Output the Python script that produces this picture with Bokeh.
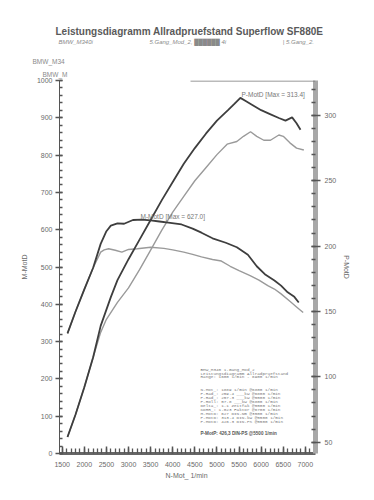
from bokeh.plotting import figure
from bokeh.models import Range1d, LinearAxis, SingleIntervalTicker, Label, BoxAnnotation, Title
from bokeh.embed import file_html
from bokeh.resources import INLINE

# ---- data ----
rpm_m_run1 = [1620, 1800, 2000, 2200, 2370, 2500, 2600, 2750, 2900, 3100, 3300, 3500, 3700, 3900,
              4200, 4450, 4650, 4900, 5200, 5450, 5700, 5900, 6100, 6300, 6450, 6600, 6750, 6850]
m_run1 = [322, 380, 440, 498, 562, 596, 611, 617, 616, 626, 627, 625, 622, 619,
          614, 603, 592, 577, 565, 553, 533, 502, 479, 464, 450, 432, 420, 405]

rpm_m_run2 = [1620, 1800, 2000, 2200, 2370, 2450, 2550, 2700, 2850, 3000, 3200, 3500, 3800, 4000,
              4250, 4450, 4650, 4900, 5100, 5300, 5500, 5750, 5950, 6150, 6300, 6450, 6650, 6800, 6950]
m_run2 = [322, 380, 440, 498, 540, 546, 549, 545, 540, 547, 549, 553, 550, 546,
          540, 534, 527, 520, 516, 502, 490, 477, 465, 450, 441, 428, 408, 393, 378]

rpm_p_run1 = [1620, 1800, 2000, 2200, 2370, 2600, 2750, 3000, 3250, 3500, 3750, 4000, 4250, 4500,
              4750, 5000, 5250, 5400, 5530, 5650, 5800, 6000, 6200, 6400, 6550, 6700, 6800, 6890]
p_run1 = [54, 71, 92, 115, 139, 161, 174, 190, 205, 220, 235, 249, 263, 275,
          286, 296, 304, 309, 313.4, 311, 308, 304, 301, 298, 296, 298.5, 294, 289]

rpm_p_run2 = [1620, 1800, 2000, 2200, 2370, 2500, 2750, 3000, 3250, 3500, 3750, 4000, 4250, 4500,
              4750, 5000, 5230, 5450, 5600, 5760, 5900, 6060, 6210, 6400, 6500, 6650, 6800, 6965]
p_run2 = [54, 71, 92, 115, 134, 144, 157, 168, 182, 197, 212, 226, 238, 250,
          260, 270, 278, 280, 284, 287.5, 284, 281, 281, 285, 284, 279, 275, 273.5]

main_title = "Leistungsdiagramm Allradpruefstand Superflow SF880E"
sub_parts = ["BMW_M340i", "5.Gang_Mod_2, \u2588\u2588\u2588\u2588\u2588\u2588 4i", "| 5.Gang_2."]
head_rows = ["BMW_M34", "BMW_M"]
info_header = ["BMW_M340           1.Gang_Mod_2",
               "Leistungsdiagramm Allradpruefstand",
               "Range: 1600 1/min - 6900 1/min"]
info_rows = ["N-Mot_:    1889 1/min  @6800 1/min",
             "P-Rad_:   259.4 ___kW  @6800 1/min",
             "P-Rad_:   257.3 ___kW  @5500 1/min",
             "P-Roll:    57.8 ___kW  @6800 1/min",
             "Delta_:     1.1 Zeitfak @5500 1/min",
             "KORR_:    1.023 Faktor @6700 1/min",
             "M-MotD:     627 DIN-Nm @3500 1/min",
             "P-MotD:   313.4 DIN-kW @5500 1/min",
             "P-MotD:   426.3 DIN-PS @5500 1/min"]
info_footer = "P-MotP: 426,3 DIN-PS @5500 1/min"

FONT = "Liberation Sans"
GREY = "#6a6a6a"
NB = "\u00a0"

def X(px):
    return 1500 + (px - 61.7) * 22.62

def Y(py):
    return (453 - py) / 0.373

subtitle = (sub_parts[0] + NB * 34 + sub_parts[1] + NB * 34 + sub_parts[2])

p = figure(width=366, height=492, x_range=Range1d(1439, 7229), y_range=Range1d(0, 1000),
           output_backend="svg", toolbar_location=None,
           min_border_left=59, min_border_right=51, min_border_top=80, min_border_bottom=39,
           x_axis_label="N-Mot_  1/min", y_axis_label="M-MotD", title=main_title)
p.extra_y_ranges = {"P": Range1d(41.35, 326.7)}
p.outline_line_color = None
p.grid.visible = False
p.background_fill_color = "white"
p.border_fill_color = "white"

# main title (outermost row)
p.title.text_font = FONT
p.title.text_font_size = "10px"
p.title.text_font_style = "bold"
p.title.text_color = "#5a5a5a"
p.title.align = "left"
p.title.offset = -4
p.title.standoff = 0

def head(text, size, color, style, offset, standoff):
    p.add_layout(Title(text=text, text_font=FONT, text_font_size=size, text_font_style=style,
                       text_color=color, align="left", offset=offset, standoff=standoff), "above")

# header rows, nearest to the frame first
head(head_rows[1], "6.5px", "#8a8a8a", "normal", -17, 4.5)
head(head_rows[0], "6.5px", "#8a8a8a", "normal", -27, 2.5)
head(NB, "1px", "white", "normal", 0, 6.4)
head(subtitle, "6px", "#8a8a8a", "italic", -1, 0)

# left axis
ya = p.yaxis[0]
ya.ticker = SingleIntervalTicker(interval=100, num_minor_ticks=5)
ya.axis_line_color = "#555"
ya.major_tick_in = 3
ya.major_tick_out = 4
ya.minor_tick_in = 3
ya.minor_tick_out = 0
ya.major_tick_line_width = 1.5
ya.major_tick_line_color = "#555"
ya.minor_tick_line_color = "#555"
ya.minor_tick_line_width = 1.3
ya.major_label_standoff = 3
ya.major_label_text_font = FONT
ya.major_label_text_font_size = "7px"
ya.major_label_text_color = GREY
ya.axis_label_text_font = FONT
ya.axis_label_text_font_size = "7px"
ya.axis_label_text_font_style = "normal"
ya.axis_label_text_color = GREY
ya.axis_label_standoff = 6

# bottom axis
xa = p.xaxis[0]
xa.ticker = SingleIntervalTicker(interval=500, num_minor_ticks=5)
xa.axis_line_color = "#666"
xa.axis_line_width = 3
xa.major_tick_in = 7
xa.major_tick_out = 0
xa.minor_tick_in = 5
xa.minor_tick_out = 0
xa.major_tick_line_color = "#555"
xa.major_tick_line_width = 1.5
xa.minor_tick_line_color = "#555"
xa.minor_tick_line_width = 1.3
xa.major_label_standoff = 8
xa.major_label_text_font = FONT
xa.major_label_text_font_size = "7px"
xa.major_label_text_color = GREY
xa.axis_label_text_font = FONT
xa.axis_label_text_font_size = "7px"
xa.axis_label_text_font_style = "normal"
xa.axis_label_text_color = GREY
xa.axis_label_standoff = 2

# right axis (power)
ra = LinearAxis(y_range_name="P", axis_label="P-MotD",
                ticker=SingleIntervalTicker(interval=50, num_minor_ticks=5))
ra.axis_line_color = "#a8a8a8"
ra.axis_line_width = 5
ra.major_tick_in = 4
ra.major_tick_out = 5
ra.minor_tick_in = 4
ra.minor_tick_out = 0
ra.major_tick_line_color = "#555"
ra.major_tick_line_width = 1.5
ra.minor_tick_line_color = "#555"
ra.minor_tick_line_width = 1.3
ra.major_label_standoff = 4
ra.major_label_text_font = FONT
ra.major_label_text_font_size = "7px"
ra.major_label_text_color = GREY
ra.axis_label_text_font = FONT
ra.axis_label_text_font_size = "7px"
ra.axis_label_text_font_style = "normal"
ra.axis_label_text_color = GREY
ra.axis_label_standoff = 4
p.add_layout(ra, "right")

# partial top frame line
p.add_layout(BoxAnnotation(left=X(190), bottom=997.3, top=1000, fill_color="#777",
                           fill_alpha=1, line_color=None))

# curves
p.line(rpm_m_run2, m_run2, line_color="#9a9a9a", line_width=1.4)
p.line(rpm_p_run2, p_run2, line_color="#9a9a9a", line_width=1.4, y_range_name="P")
p.line(rpm_m_run1, m_run1, line_color="#3e3e3e", line_width=1.8)
p.line(rpm_p_run1, p_run1, line_color="#3e3e3e", line_width=1.8, y_range_name="P")

def lab(px, py, text, size="6.5px", color=GREY, style="normal", font=FONT, **kw):
    p.add_layout(Label(x=X(px), y=Y(py), text=text, text_font=font, text_font_size=size,
                       text_color=color, text_font_style=style, text_baseline="middle", **kw))

# curve labels
lab(241, 94, "P-MotD [Max = 313.4]", size="6.5px", color="#777")
lab(140, 216, "M-MotD [Max = 627.0]", size="6.5px", color="#777")

# info box
MONO = "Liberation Mono"
for i, t in enumerate(info_header):
    lab(200, 368.7 + 3.8 * i, t, size="4.3px", color="#777", font=MONO)
for i, t in enumerate(info_rows):
    lab(200, 388.7 + 4.0 * i, t, size="4.3px", color="#777", font=MONO)
lab(200, 432.5, info_footer, size="4.6px", color="#555", style="bold", font=FONT)

open("out.html", "w").write(file_html(p, INLINE))
